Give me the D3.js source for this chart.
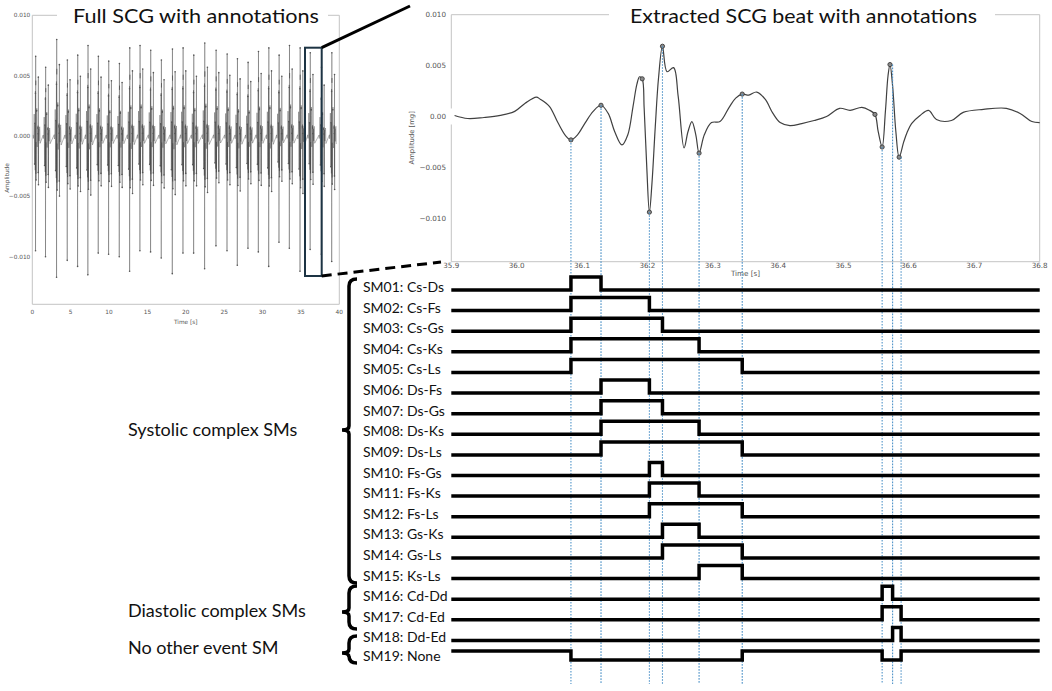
<!DOCTYPE html>
<html><head><meta charset="utf-8">
<script src="https://cdn.jsdelivr.net/npm/d3@7"></script>
<style>body{margin:0;background:#fff}svg{display:block}</style>
</head><body>
<svg id="c" width="1052" height="691"></svg>
<script>
// ---------------- DATA ----------------
// Full recording: beat times (s) of main systolic spike, spike max / min amplitude
const beatTimes = [0.44,1.74,3.18,4.57,5.92,7.26,8.61,9.96,11.35,12.70,14.04,15.43,16.82,18.26,19.65,21.04,22.47,23.95,25.39,26.73,28.12,29.47,30.82,32.16,33.51,34.90,36.22,37.68,39.03];
const beatTop = [0.0066,0.0057,0.0080,0.0063,0.0067,0.0075,0.0066,0.0062,0.0060,0.0073,0.0075,0.0071,0.0063,0.0072,0.0073,0.0067,0.0077,0.0071,0.0068,0.0064,0.0061,0.0070,0.0073,0.0067,0.0075,0.0073,0.0069,0.0057,0.0069];
const beatBottom = [-0.0095,-0.0100,-0.0117,-0.0103,-0.0108,-0.0115,-0.0097,-0.0098,-0.0100,-0.0112,-0.0095,-0.0096,-0.0101,-0.0114,-0.0097,-0.0097,-0.0110,-0.0091,-0.0095,-0.0107,-0.0093,-0.0096,-0.0108,-0.0088,-0.0093,-0.0112,-0.0094,-0.0098,-0.0104];

// Extracted beat (35.9 - 36.8 s)
const beatT = [35.905,35.925,35.950,35.975,35.997,36.013,36.030,36.036,36.050,36.063,36.075,36.083,36.093,36.105,36.117,36.129,36.140,36.150,36.161,36.170,36.178,36.184,36.188,36.192,36.195,36.199,36.203,36.207,36.212,36.217,36.223,36.230,36.240,36.247,36.256,36.262,36.268,36.274,36.279,36.287,36.298,36.311,36.325,36.335,36.345,36.355,36.367,36.380,36.392,36.403,36.418,36.436,36.455,36.474,36.494,36.510,36.528,36.540,36.548,36.553,36.559,36.564,36.568,36.571,36.575,36.580,36.585,36.592,36.597,36.604,36.617,36.630,36.642,36.665,36.683,36.714,36.749,36.770,36.788,36.800];
const beatV = [0.0001,-0.0002,-0.0001,0.0001,0.0005,0.0013,0.0019,0.0017,0.0010,-0.0006,-0.0019,-0.0023,-0.0018,-0.0006,0.0005,0.0011,0.0003,-0.0015,-0.0028,-0.0018,0.0010,0.0032,0.0039,0.0037,0.0008,-0.0050,-0.0094,-0.0065,-0.0010,0.0038,0.0069,0.0044,0.0048,0.0020,-0.0031,-0.0015,-0.0005,-0.0018,-0.0036,-0.0018,-0.0006,-0.0005,0.0009,0.0018,0.0022,0.0021,0.0024,0.0017,0.0003,-0.0006,-0.0009,-0.0007,-0.0004,0.0000,0.0008,0.0006,0.0009,0.0006,0.0002,-0.0015,-0.0030,0.0005,0.0040,0.0051,0.0030,-0.0015,-0.0040,-0.0025,-0.0016,-0.0007,0.0001,0.0006,-0.0003,-0.0004,0.0004,0.0007,0.0008,0.0003,-0.0005,-0.0006];

// Annotated fiducial points on the beat
const markT = [36.083,36.129,36.192,36.203,36.223,36.279,36.345,36.548,36.559,36.571,36.585];
const markV = [-0.0023,0.0011,0.0037,-0.0094,0.0069,-0.0036,0.0022,0.0002,-0.0030,0.0051,-0.0040];

// Event names and times used for the guides and SM windows
const eventNames = ["Cs","Ds","Fs","Gs","Ks","Ls","Cd","Dd","Ed"];
const eventTimes = [36.083,36.129,36.203,36.223,36.279,36.345,36.559,36.575,36.588];
const eventValues = [-0.0023,0.0011,-0.0094,0.0069,-0.0036,0.0022,-0.0030,0.0051,-0.0040];

// Signal measures
const smLabels = ["SM01: Cs-Ds","SM02: Cs-Fs","SM03: Cs-Gs","SM04: Cs-Ks","SM05: Cs-Ls","SM06: Ds-Fs","SM07: Ds-Gs","SM08: Ds-Ks","SM09: Ds-Ls","SM10: Fs-Gs","SM11: Fs-Ks","SM12: Fs-Ls","SM13: Gs-Ks","SM14: Gs-Ls","SM15: Ks-Ls","SM16: Cd-Dd","SM17: Cd-Ed","SM18: Dd-Ed","SM19: None"];
const smWindows = [[["Cs","Ds"]],[["Cs","Fs"]],[["Cs","Gs"]],[["Cs","Ks"]],[["Cs","Ls"]],[["Ds","Fs"]],[["Ds","Gs"]],[["Ds","Ks"]],[["Ds","Ls"]],[["Fs","Gs"]],[["Fs","Ks"]],[["Fs","Ls"]],[["Gs","Ks"]],[["Gs","Ls"]],[["Ks","Ls"]],[["Cd","Dd"]],[["Cd","Ed"]],[["Dd","Ed"]],[["Cs","Ls"],["Cd","Ed"]]];
const smInverted = [false,false,false,false,false,false,false,false,false,false,false,false,false,false,false,false,false,false,true];

const groupLabels = ["Systolic complex SMs","Diastolic complex SMs","No other event SM"];

const fullXTicks = [0,5,10,15,20,25,30,35,40];
const fullYTicks = [0.010,0.005,0.000,-0.005,-0.010];
const fullYTickLabels = ["0.010","0.005","0.000","\u22120.005","\u22120.010"];
const beatXTicks = [35.9,36.0,36.1,36.2,36.3,36.4,36.5,36.6,36.7,36.8];
const beatYTicks = [0.010,0.005,0.000,-0.005,-0.010];
const beatYTickLabels = ["0.010","0.005","0.00","\u22120.005","\u22120.010"];

// ---------------- DRAW ----------------
const svg = d3.select("#c");
const FRAME = "#c4c4c4", TICKC = "#555";

// ---- Left: full SCG ----
const xF = d3.scaleLinear().domain([0,40]).range([32.3,339.3]);
const yF = d3.scaleLinear().domain([-0.01394,0.010]).range([304.3,15.3]);
const gF = svg.append("g");
const fullPts = [];
const fullMarks = [];
const t0 = eventTimes[eventNames.indexOf("Gs")];
const vTop = d3.max(beatV), vBot = d3.min(beatV);
beatTimes.forEach((bt,i)=>{
  const sp = beatTop[i]/vTop, sn = beatBottom[i]/vBot;
  beatT.forEach((t,j)=>{
    const tt = bt + (t - t0);
    if (tt>=0 && tt<=40) fullPts.push([tt, beatV[j]>=0 ? beatV[j]*sp : beatV[j]*sn]);
  });
  markT.forEach((t,j)=>{
    const tt = bt + (t - t0);
    if (tt>=0 && tt<=40) fullMarks.push([tt, markV[j]>=0 ? markV[j]*sp : markV[j]*sn]);
  });
});
// frame
gF.append("line").attr("x1",xF(0)).attr("x2",xF(0)).attr("y1",yF.range()[1]).attr("y2",yF.range()[0]).attr("stroke",FRAME);
gF.append("line").attr("x1",xF(40)).attr("x2",xF(40)).attr("y1",yF.range()[1]).attr("y2",yF.range()[0]).attr("stroke",FRAME);
gF.append("line").attr("x1",xF(0)).attr("x2",xF(40)).attr("y1",yF.range()[0]).attr("y2",yF.range()[0]).attr("stroke",FRAME);
gF.append("line").attr("x1",xF(0)).attr("x2",57).attr("y1",yF.range()[1]).attr("y2",yF.range()[1]).attr("stroke",FRAME);
gF.append("line").attr("x1",328).attr("x2",xF(40)).attr("y1",yF.range()[1]).attr("y2",yF.range()[1]).attr("stroke",FRAME);
// ticks
gF.selectAll(".fyt").data(fullYTicks).join("text")
  .attr("x",xF(0)-2).attr("y",d=>yF(d)+2).attr("text-anchor","end")
  .attr("font-family","DejaVu Sans").attr("font-size",5.8).attr("fill",TICKC)
  .text((d,i)=>fullYTickLabels[i]);
gF.selectAll(".fxt").data(fullXTicks).join("text")
  .attr("x",d=>xF(d)).attr("y",314).attr("text-anchor","middle")
  .attr("font-family","DejaVu Sans").attr("font-size",5.8).attr("fill",TICKC)
  .text(d=>d);
gF.append("text").attr("x",xF(20)).attr("y",323.5).attr("text-anchor","middle")
  .attr("font-family","DejaVu Sans").attr("font-size",5.8).attr("fill",TICKC).text("Time [s]");
gF.append("text").attr("transform","translate(9,178) rotate(-90)").attr("text-anchor","middle")
  .attr("font-family","DejaVu Sans").attr("font-size",5.8).attr("fill",TICKC).text("Amplitude");
// signal
gF.append("path").datum(fullPts)
  .attr("d",d3.line().x(d=>xF(d[0])).y(d=>yF(d[1])))
  .attr("fill","none").attr("stroke","#3a3a3a").attr("stroke-width",0.5).attr("stroke-opacity",0.75);
gF.selectAll(".fm").data(fullMarks).join("circle")
  .attr("cx",d=>xF(d[0])).attr("cy",d=>yF(d[1])).attr("r",0.8)
  .attr("fill","#555");
// title
gF.append("text").attr("x",196).attr("y",23).attr("text-anchor","middle")
  .attr("font-family","Lato").attr("font-size",19).attr("fill","#111")
  .attr("textLength",246).attr("lengthAdjust","spacingAndGlyphs")
  .text("Full SCG with annotations");

// ---- Right: extracted beat ----
const xB = d3.scaleLinear().domain([35.9,36.8]).range([451.3,1039.7]);
const yB = d3.scaleLinear().domain([-0.01427,0.010]).range([261.7,14.7]);
const gB = svg.append("g");
gB.append("line").attr("x1",xB(35.9)).attr("x2",xB(35.9)).attr("y1",yB.range()[1]).attr("y2",yB.range()[0]).attr("stroke",FRAME);
gB.append("line").attr("x1",xB(36.8)).attr("x2",xB(36.8)).attr("y1",yB.range()[1]).attr("y2",yB.range()[0]).attr("stroke",FRAME);
gB.append("line").attr("x1",xB(35.9)).attr("x2",xB(36.8)).attr("y1",yB.range()[0]).attr("y2",yB.range()[0]).attr("stroke",FRAME);
gB.append("line").attr("x1",xB(35.9)).attr("x2",609).attr("y1",yB.range()[1]).attr("y2",yB.range()[1]).attr("stroke",FRAME);
gB.append("line").attr("x1",995).attr("x2",xB(36.8)).attr("y1",yB.range()[1]).attr("y2",yB.range()[1]).attr("stroke",FRAME);
// white patch interrupting axis near 0 (as in original)
gB.append("rect").attr("x",446).attr("y",yB(0)-8).attr("width",8).attr("height",16).attr("fill","#fff");
gB.selectAll(".byt").data(beatYTicks).join("text")
  .attr("x",446).attr("y",d=>yB(d)+2.5).attr("text-anchor","end")
  .attr("font-family","DejaVu Sans").attr("font-size",7.2).attr("fill",TICKC)
  .text((d,i)=>beatYTickLabels[i]);
gB.selectAll(".bxt").data(beatXTicks).join("text")
  .attr("x",d=>xB(d)).attr("y",268).attr("text-anchor","middle")
  .attr("font-family","DejaVu Sans").attr("font-size",7.2).attr("fill",TICKC)
  .text(d=>d.toFixed(1));
gB.append("text").attr("x",xB(36.35)).attr("y",276).attr("text-anchor","middle")
  .attr("font-family","DejaVu Sans").attr("font-size",7.2).attr("fill",TICKC).text("Time [s]");
gB.append("text").attr("transform",`translate(414,${yB(-0.0021)}) rotate(-90)`).attr("text-anchor","middle")
  .attr("font-family","DejaVu Sans").attr("font-size",6.8).attr("fill",TICKC).text("Amplitude [mg]");
// title
gB.append("text").attr("x",803.5).attr("y",23.3).attr("text-anchor","middle")
  .attr("font-family","Lato").attr("font-size",19).attr("fill","#111")
  .attr("textLength",347).attr("lengthAdjust","spacingAndGlyphs")
  .text("Extracted SCG beat with annotations");

// guides (blue dotted)
const gG = svg.append("g");
gG.selectAll("line").data(eventTimes).join("line")
  .attr("x1",d=>xB(d)).attr("x2",d=>xB(d))
  .attr("y1",(d,i)=>yB(eventValues[i])).attr("y2",684)
  .attr("stroke","#4f93c8").attr("stroke-width",1.1).attr("stroke-dasharray","1.6,1.4");

// beat curve
gB.append("path").datum(beatT.map((t,i)=>[t,beatV[i]]))
  .attr("d",d3.line().x(d=>xB(d[0])).y(d=>yB(d[1])).curve(d3.curveCatmullRom.alpha(0.5)))
  .attr("fill","none").attr("stroke","#404040").attr("stroke-width",1.2);
gB.selectAll(".bm").data(markT).join("circle")
  .attr("cx",d=>xB(d)).attr("cy",(d,i)=>yB(markV[i])).attr("r",2.1)
  .attr("fill","#8a8a8a").attr("stroke","#3a3a3a").attr("stroke-width",0.9);

// ---- zoom box and connectors ----
svg.append("rect").attr("x",305).attr("y",47.7).attr("width",16.7).attr("height",228.3)
  .attr("fill","none").attr("stroke","#1d3444").attr("stroke-width",2);
svg.append("line").attr("x1",321.7).attr("y1",47.7).attr("x2",410).attr("y2",6)
  .attr("stroke","#000").attr("stroke-width",3);
svg.append("line").attr("x1",321.7).attr("y1",276).attr("x2",441).attr("y2",262)
  .attr("stroke","#000").attr("stroke-width",3).attr("stroke-dasharray","10,6");

// ---- SM timing rows ----
const yR = d3.scalePoint().domain(smLabels).range([290,661]);
const tOf = n => eventTimes[eventNames.indexOf(n)];
const gS = svg.append("g");
smLabels.forEach((lab,i)=>{
  const base = yR(lab);
  const inv = smInverted[i];
  const lo = inv ? base-1 : base, hi = inv ? base-10 : base-13;
  const off = inv ? hi : lo, on = inv ? lo : hi;
  let d = `M${xB(35.9)},${off}`;
  smWindows[i].forEach(w=>{
    d += `H${xB(tOf(w[0]))}V${on}H${xB(tOf(w[1]))}V${off}`;
  });
  d += `H${xB(36.8)}`;
  gS.append("path").attr("d",d).attr("fill","none").attr("stroke","#000")
    .attr("stroke-width",3.5).attr("stroke-linejoin","miter");
  gS.append("text").attr("x",363).attr("y",base+(inv?0:2)).attr("font-family","Lato")
    .attr("font-size",14).attr("fill","#111").text(lab);
});

// ---- group braces and labels ----
const braceTop = [279,586,636], braceBot = [583,629,663], braceMid = [430,612,653];
const labelBase = [436,617,654];
function brace(x,y1,y2,ym){
  return `M${x+8},${y1} Q${x},${y1} ${x},${y1+7} L${x},${ym-4} Q${x},${ym} ${x-7},${ym} Q${x},${ym} ${x},${ym+4} L${x},${y2-7} Q${x},${y2} ${x+8},${y2}`;
}
groupLabels.forEach((g,i)=>{
  svg.append("path").attr("d",brace(349,braceTop[i],braceBot[i],braceMid[i]))
    .attr("fill","none").attr("stroke","#000").attr("stroke-width",3.5);
  svg.append("text").attr("x",128).attr("y",labelBase[i]).attr("font-family","Lato")
    .attr("font-size",18).attr("fill","#111").text(g);
});
</script>
</body></html>
